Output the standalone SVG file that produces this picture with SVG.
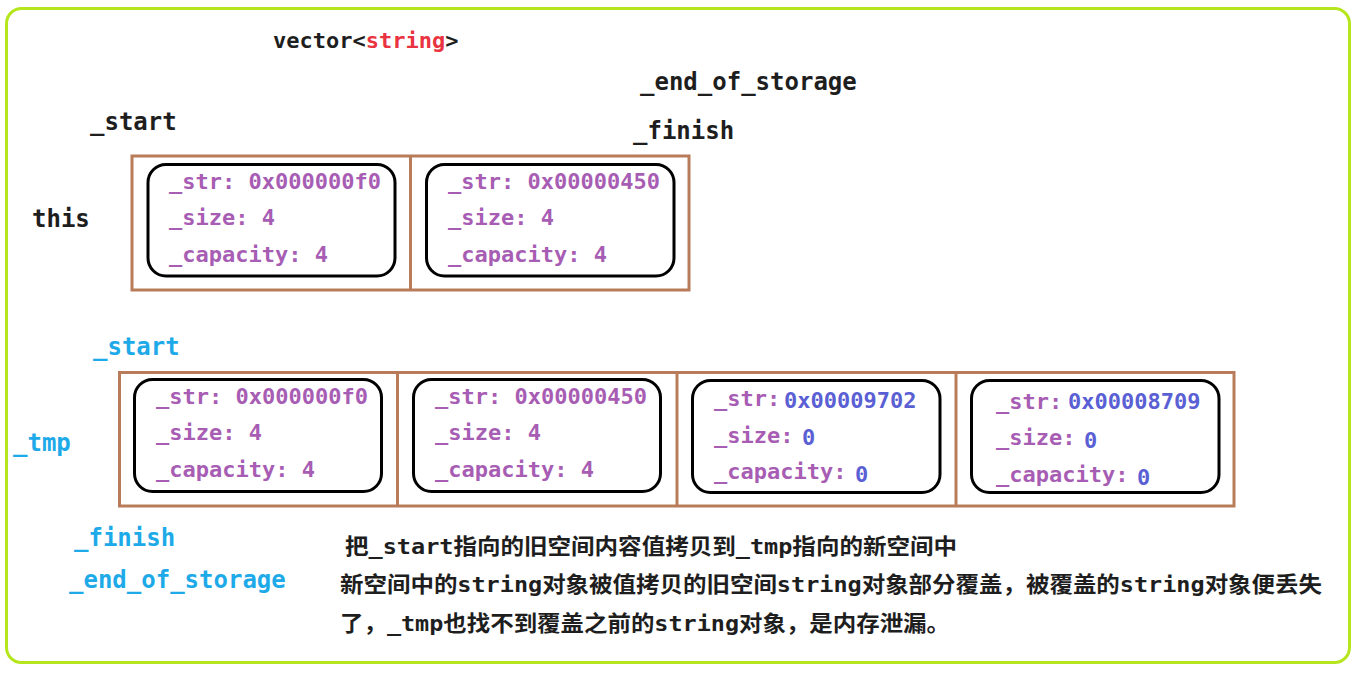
<svg xmlns="http://www.w3.org/2000/svg" width="1362" height="674" viewBox="0 0 1362 674">
<style>
.mono{font-family:"DejaVu Sans Mono","Liberation Mono",monospace;font-weight:bold;}
.lbl{font-size:24px;fill:#1e1e1e;}
.cy{font-size:24px;fill:#1eaae8;}
.fld{font-size:22px;fill:#a75db3;}
.val{font-size:22px;fill:#5a5fd4;}
.cn{font-family:"DejaVu Sans Mono","Noto Sans CJK SC",sans-serif;font-weight:bold;font-size:22px;fill:#1e1e1e;}
.outer{fill:none;stroke:#b97c5b;stroke-width:3;}
.obj{fill:#fff;stroke:#000;stroke-width:3;}
</style>
<rect x="0" y="0" width="1362" height="674" fill="#fff"/>
<rect id="frame" x="6.5" y="8.5" width="1343" height="654" rx="15" ry="15" fill="none" stroke="#b5e61d" stroke-width="3"/>

<g id="title"><text class="mono lbl" x="273" y="48" font-size="22" style="font-size:22px">vector&lt;<tspan fill="#ea3340">string</tspan>&gt;</text></g>

<g id="this-labels">
<text class="mono lbl" x="640" y="90">_end_of_storage</text>
<text class="mono lbl" x="633" y="139">_finish</text>
<text class="mono lbl" x="90" y="130">_start</text>
<text class="mono lbl" x="32" y="227">this</text>
</g>

<g id="this-vector">
<rect class="outer" x="132" y="156" width="557" height="134"/>
<line class="outer" x1="410.5" y1="156" x2="410.5" y2="290"/>
</g>
<g id="this-elem0">
<rect class="obj" x="148" y="164.5" width="247" height="111.5" rx="18"/>
<text class="mono fld" x="169" y="189">_str: 0x000000f0</text>
<text class="mono fld" x="169" y="225">_size: 4</text>
<text class="mono fld" x="169" y="262">_capacity: 4</text>
</g>
<g id="this-elem1">
<rect class="obj" x="426.5" y="164.5" width="247.5" height="111.5" rx="18"/>
<text class="mono fld" x="448" y="189">_str: 0x00000450</text>
<text class="mono fld" x="448" y="225">_size: 4</text>
<text class="mono fld" x="448" y="262">_capacity: 4</text>
</g>

<g id="tmp-labels">
<text class="mono cy" x="93" y="355">_start</text>
<text class="mono cy" x="13" y="451">_tmp</text>
<text class="mono cy" x="74" y="546">_finish</text>
<text class="mono cy" x="69" y="588">_end_of_storage</text>
</g>

<g id="tmp-vector">
<rect class="outer" x="119.5" y="372.5" width="1114.5" height="133.5"/>
<line class="outer" x1="397.5" y1="372.5" x2="397.5" y2="506"/>
<line class="outer" x1="677" y1="372.5" x2="677" y2="506"/>
<line class="outer" x1="956" y1="372.5" x2="956" y2="506"/>
</g>
<g id="tmp-elem0">
<rect class="obj" x="134.5" y="379.5" width="247" height="112" rx="18"/>
<text class="mono fld" x="156" y="404">_str: 0x000000f0</text>
<text class="mono fld" x="156" y="440">_size: 4</text>
<text class="mono fld" x="156" y="477">_capacity: 4</text>
</g>
<g id="tmp-elem1">
<rect class="obj" x="413.5" y="379.5" width="247" height="112" rx="18"/>
<text class="mono fld" x="435" y="404">_str: 0x00000450</text>
<text class="mono fld" x="435" y="440">_size: 4</text>
<text class="mono fld" x="435" y="477">_capacity: 4</text>
</g>
<g id="tmp-elem2">
<rect class="obj" x="692.5" y="380.5" width="247.5" height="112" rx="18"/>
<text class="mono fld" x="714" y="406">_str:</text>
<text class="mono val" x="784" y="408">0x00009702</text>
<text class="mono fld" x="714" y="443">_size:</text>
<text class="mono val" x="802" y="445">0</text>
<text class="mono fld" x="714" y="479">_capacity:</text>
<text class="mono val" x="855" y="482">0</text>
</g>
<g id="tmp-elem3">
<rect class="obj" x="971.5" y="380.5" width="247.5" height="112" rx="18"/>
<text class="mono fld" x="996" y="409">_str:</text>
<text class="mono val" x="1068" y="409">0x00008709</text>
<text class="mono fld" x="996" y="445">_size:</text>
<text class="mono val" x="1084" y="448">0</text>
<text class="mono fld" x="996" y="482">_capacity:</text>
<text class="mono val" x="1137" y="485">0</text>
</g>

<g id="note">
<text class="cn" x="345" y="554" textLength="612" lengthAdjust="spacingAndGlyphs">把_start指向的旧空间内容值拷贝到_tmp指向的新空间中</text>
<text class="cn" x="340" y="592" textLength="982" lengthAdjust="spacingAndGlyphs">新空间中的string对象被值拷贝的旧空间string对象部分覆盖，被覆盖的string对象便丢失</text>
<text class="cn" x="340" y="631" textLength="610" lengthAdjust="spacingAndGlyphs">了，_tmp也找不到覆盖之前的string对象，是内存泄漏。</text>
</g>
</svg>
